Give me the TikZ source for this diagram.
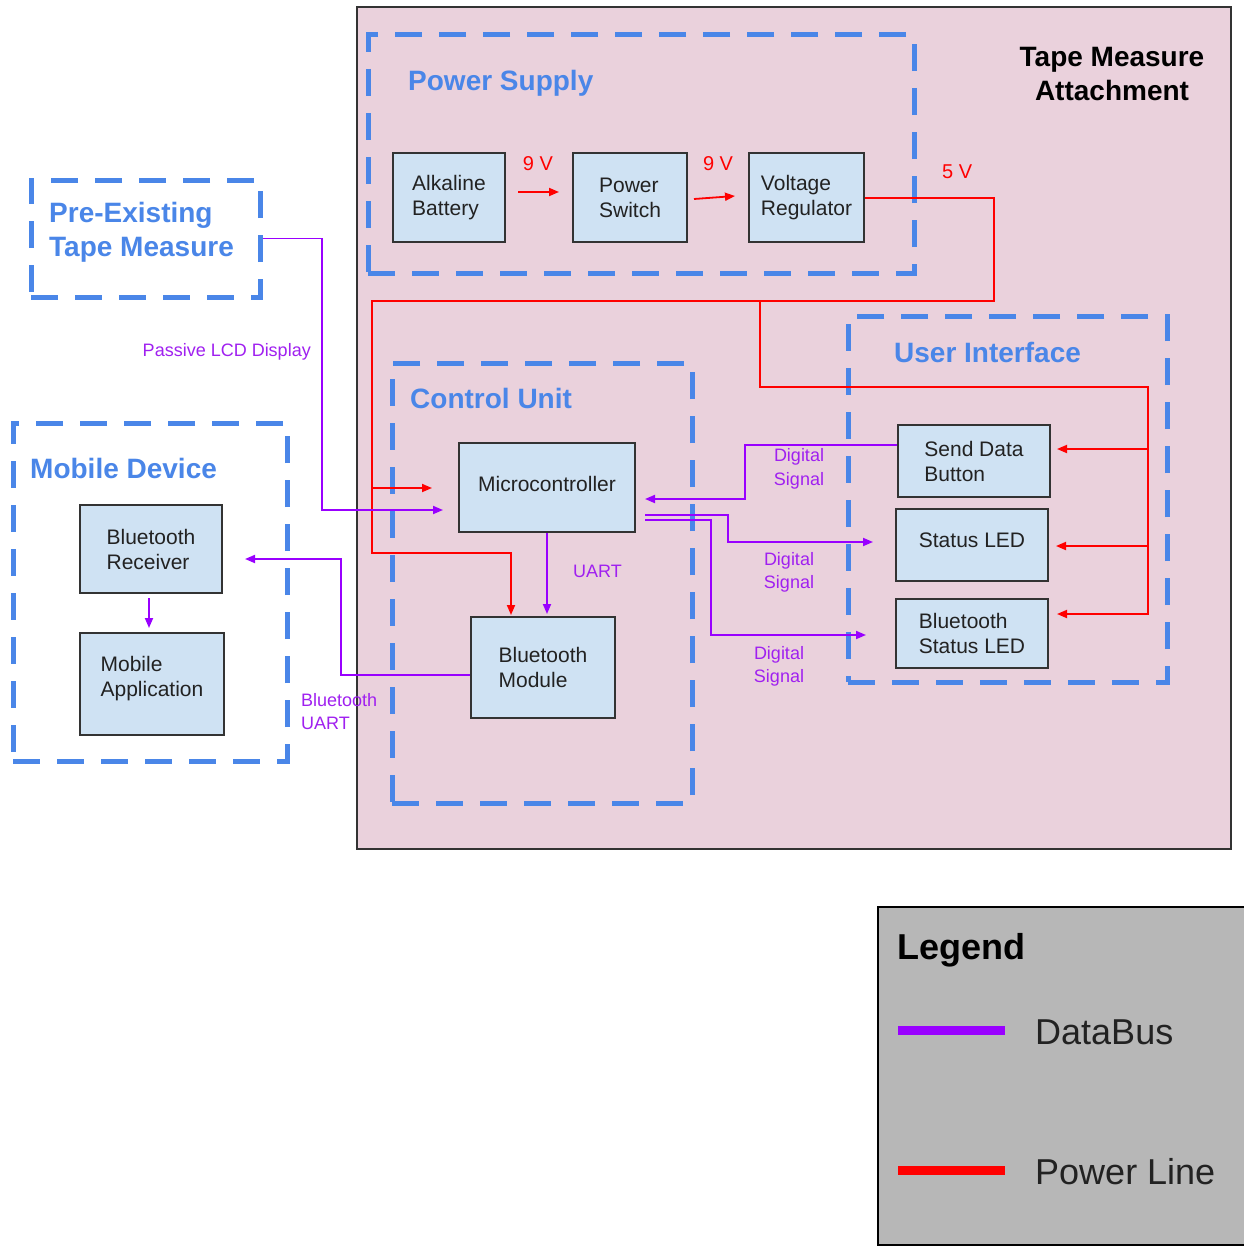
\documentclass[tikz,border=0pt]{standalone}
\usepackage{fontspec}
\setmainfont{Liberation Sans}
\usetikzlibrary{arrows.meta,calc}
\definecolor{pinkbg}{HTML}{EAD1DC}
\definecolor{boxfill}{HTML}{CFE2F3}
\definecolor{dashblue}{HTML}{4A86E8}
\definecolor{pwr}{HTML}{FF0000}
\definecolor{dbus}{HTML}{9900FF}
\definecolor{dlabc}{HTML}{A020F0}
\definecolor{leggray}{HTML}{B7B7B7}
\definecolor{edgec}{HTML}{333333}
\definecolor{txt}{HTML}{222222}
\begin{document}
\begin{tikzpicture}[x=1pt,y=-1pt,
  blk/.style={draw=edgec,line width=2pt,fill=boxfill,align=left,inner sep=0pt,
    font=\fontsize{21}{25}\selectfont,text=txt},
  grp/.style={draw=dashblue,line width=5pt,dash pattern=on 27pt off 17pt,inner sep=0pt},
  grplabel/.style={text=dashblue,font=\bfseries\fontsize{28}{34}\selectfont,anchor=base west,inner sep=0pt},
  pline/.style={draw=pwr,line width=1.8pt},
  dline/.style={draw=dbus,line width=1.8pt},
  tip/.style={-{Triangle[length=10pt,width=8pt]}},
  dlab/.style={text=dlabc,font=\fontsize{18}{23.5}\selectfont,inner sep=0pt,align=center},
  plab/.style={text=pwr,font=\fontsize{20}{24}\selectfont,inner sep=0pt},
]
\useasboundingbox (0,0) rectangle (1244,1247);
\fill[white] (0,0) rectangle (1244,1247);

% outer attachment
\node[draw=edgec,line width=1.8pt,fill=pinkbg,minimum width=874,minimum height=842,inner sep=0pt] (tma) at (794,428) {};
\node[font=\bfseries\fontsize{28}{34}\selectfont,align=center,inner sep=0pt] (tmatitle) at (1112,74) {Tape Measure\\Attachment};

% groups
\node[grp,minimum width=546,minimum height=238] (ps) at (641,154) {};
\node[grplabel] (pslab) at (408,90) {Power Supply};
\node[grp,minimum width=300,minimum height=440] (cu) at (542,583) {};
\node[grplabel] (culab) at (410,408) {Control Unit};
\node[grp,minimum width=319,minimum height=366] (ui) at (1007.5,499) {};
\node[grplabel] (uilab) at (894,362) {User Interface};
\node[grp,minimum width=274,minimum height=338] (md) at (150,592) {};
\node[grplabel] (mdlab) at (30,478) {Mobile Device};
\node[grp,minimum width=229,minimum height=117] (pre) at (145.5,238.5) {};
\node[text=dashblue,font=\bfseries\fontsize{28}{34}\selectfont,align=left,inner sep=0pt,anchor=north west] (prelab) at (49,202) {Pre-Existing\\Tape Measure};

% blocks
\node[blk,minimum width=112,minimum height=89] (bat) at (449,197.5) {Alkaline\\Battery};
\node[blk,minimum width=114,minimum height=89] (sw) at (630,197.5) {Power\\Switch};
\node[blk,minimum width=115,minimum height=89] (reg) at (806.5,197.5) {Voltage\\Regulator};
\node[blk,minimum width=176,minimum height=89] (mcu) at (547,487.5) {Microcontroller\\[-17pt]};
\node[blk,minimum width=144,minimum height=101] (btm) at (543,667.5) {Bluetooth\\Module};
\node[blk,minimum width=152,minimum height=72] (sdb) at (974,461) {Send Data\\Button};
\node[blk,minimum width=152,minimum height=72] (sled) at (972,545) {Status LED\\[-15pt]};
\node[blk,minimum width=152,minimum height=69] (bled) at (972,633.5) {Bluetooth\\Status LED};
\node[blk,minimum width=142,minimum height=88] (btr) at (151,549) {Bluetooth\\Receiver};
\node[blk,minimum width=144,minimum height=102] (app) at (152,684) {Mobile\\Application\\[-10pt]};

% power chain
\node[plab] (v1) at (538,164) {9 V};
\node[plab] (v2) at (718,164) {9 V};
\node[plab,anchor=west] (v3) at (942,172) {5 V};
\draw[pline,tip] ($(bat.east)+(12,-5.5)$) -- ($(sw.west)+(-13,-5.5)$);
\draw[pline,tip] ($(sw.east)+(6,1.5)$) -- ($(reg.west)+(-13,-1.5)$);

% power distribution
\coordinate (pA) at (994,198);
\coordinate (pB) at (994,301);
\coordinate (pC) at (372,301);
\coordinate (pD) at (760,301);
\coordinate (pE) at (760,387);
\coordinate (pF) at (1148,387);
\coordinate (pG) at (1148,614);
\coordinate (pS) at (1148,449);
\coordinate (pL) at (1148,546);
\coordinate (pH) at (372,553);
\coordinate (pI) at (511,553);
\coordinate (pJ) at (372,488);
\coordinate (pK) at (432,488);
\draw[pline,tip] (reg.east |- pA) -- (pA) -- (pB) -- (pC) -- (pH) -- (pI) -- ($(pI |- btm.north)+(0,-1)$);
\draw[pline,tip] (pJ) -- (pK);
\draw[pline,tip] (pD) -- (pE) -- (pF) -- (pG) -- ($(bled.east |- pG)+(8,0)$);
\draw[pline,tip] (pS) -- ($(sdb.east |- pS)+(6,0)$);
\draw[pline,tip] (pL) -- ($(sled.east |- pL)+(7,0)$);

% data lines
\coordinate (dB) at (322,510);
\coordinate (dC) at (443,510);
\draw[dline,tip] (pre.east) -| (dB) -- (dC);
\node[dlab,anchor=east] (lcd) at (311,352) {Passive LCD Display};

\draw[dline,tip] (mcu.south) -- ($(mcu.south |- btm.north)+(0,-2)$);
\node[dlab,anchor=west] (uart) at (573,571) {UART};

\coordinate (dE) at (341,559);
\coordinate (dF) at (245,559);
\draw[dline,tip] ($(btm.west)+(0,7.5)$) -| (dE) -- (dF);
\node[dlab,align=left,anchor=west] (btuart) at (301,711.5) {Bluetooth\\UART};

\draw[dline,tip] ($(btr.south)+(-2,4)$) -- ($(btr.south |- app.north)+(-2,-4)$);

\coordinate (dG) at (745,499);
\coordinate (dH) at (645,499);
\draw[dline,tip] ($(sdb.west)+(0,-16)$) -| (dG) -- (dH);
\coordinate (dI) at (645,515);
\coordinate (dJ) at (728,542);
\coordinate (dK) at (873,542);
\draw[dline,tip] (dI) -| (dJ) -- (dK);
\coordinate (dL) at (645,520);
\coordinate (dM) at (711,635);
\coordinate (dN) at (866,635);
\draw[dline,tip] (dL) -| (dM) -- (dN);
\node[dlab] (ds1) at (799,469) {Digital\\Signal};
\node[dlab] (ds2) at (789,572.5) {Digital\\Signal};
\node[dlab] (ds3) at (779,666.5) {Digital\\Signal};

% legend
\node[draw=black,line width=1.8pt,fill=leggray,minimum width=370,minimum height=338,inner sep=0pt] (leg) at (1063,1076) {};
\node[font=\bfseries\fontsize{36}{40}\selectfont,anchor=west,inner sep=0pt] (legt) at (897,950) {Legend};
\coordinate (l1a) at (898,1030);
\coordinate (l1b) at (1005,1030);
\coordinate (l2a) at (898,1170);
\coordinate (l2b) at (1005,1170);
\draw[draw=dbus,line width=9pt] (l1a) -- (l1b);
\draw[draw=pwr,line width=9pt] (l2a) -- (l2b);
\node[font=\fontsize{36}{40}\selectfont,anchor=west,inner sep=0pt,text=txt] (legd) at (1035,1032) {DataBus};
\node[font=\fontsize{36}{40}\selectfont,anchor=west,inner sep=0pt,text=txt] (legp) at (1035,1172) {Power Line};
\end{tikzpicture}
\end{document}
